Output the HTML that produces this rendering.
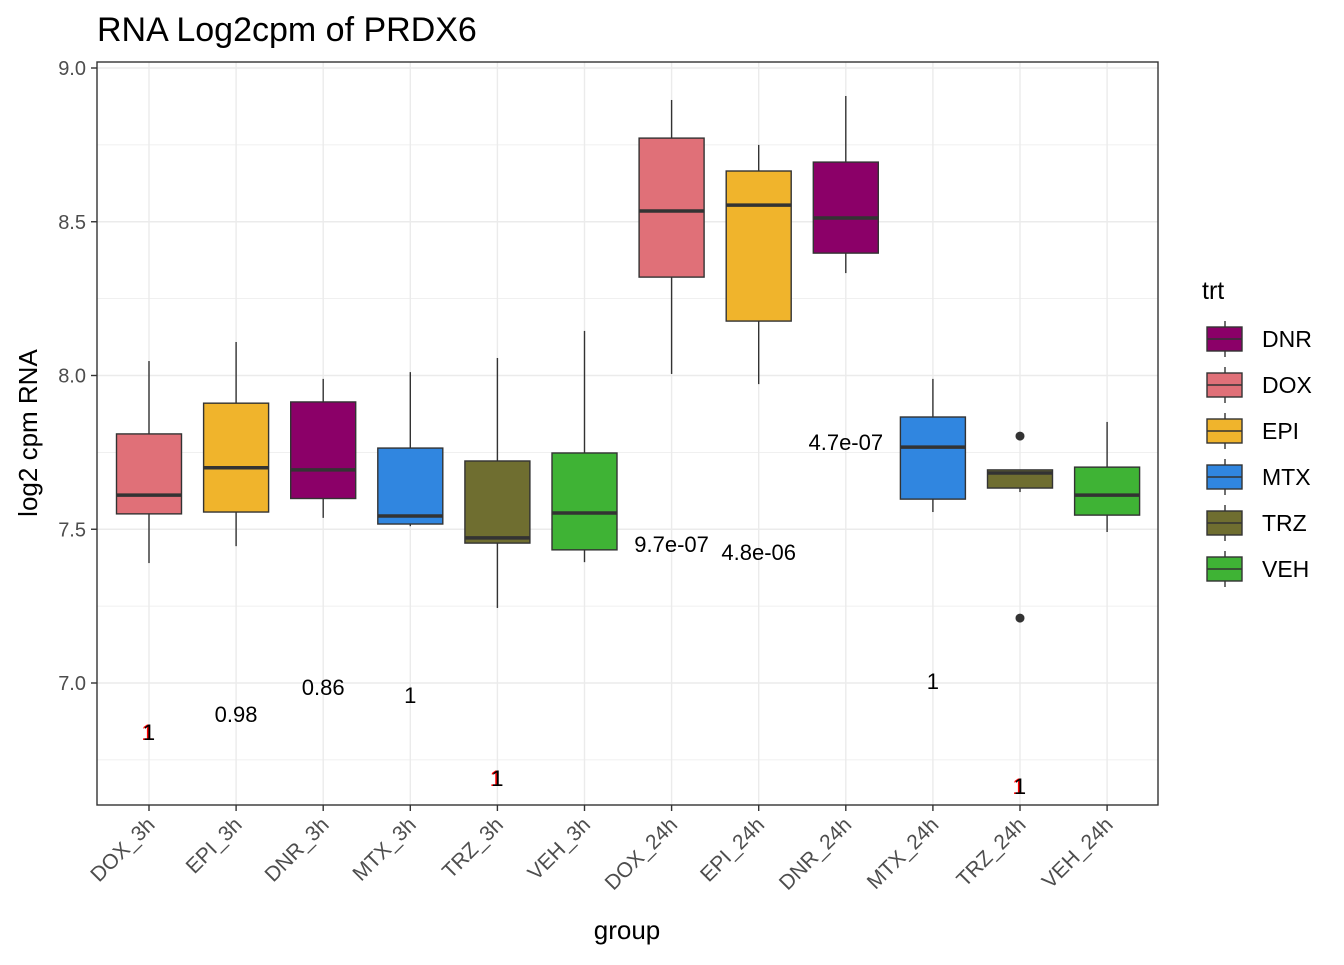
<!DOCTYPE html>
<html><head><meta charset="utf-8"><style>
body{margin:0;background:#fff;font-family:"Liberation Sans",Arial,sans-serif}
</style></head><body>
<svg id="chart" width="1344" height="960" xmlns="http://www.w3.org/2000/svg" font-family="Liberation Sans, Arial, sans-serif">
<text x="97" y="41" font-size="34" fill="#000">RNA Log2cpm of PRDX6</text>
<g id="grid"></g>
<g id="boxes"></g>
<g id="labels"></g>
<rect x="97" y="62" width="1061" height="743" fill="none" stroke="#333" stroke-width="1.4"/>
<g id="axes"></g>
<text x="627" y="939" font-size="26" text-anchor="middle">group</text>
<text transform="translate(37,433) rotate(-90)" font-size="26" text-anchor="middle">log2 cpm RNA</text>
<g id="legend"></g>
</svg>
<script>
const groups=["DOX_3h","EPI_3h","DNR_3h","MTX_3h","TRZ_3h","VEH_3h","DOX_24h","EPI_24h","DNR_24h","MTX_24h","TRZ_24h","VEH_24h"];
const trts=["DOX","EPI","DNR","MTX","TRZ","VEH","DOX","EPI","DNR","MTX","TRZ","VEH"];
const whiskerLow=[7.39,7.445,7.537,7.51,7.244,7.393,8.005,7.972,8.333,7.556,7.621,7.491];
const q1=[7.55,7.556,7.60,7.517,7.455,7.433,8.320,8.177,8.398,7.598,7.634,7.546];
const median=[7.611,7.70,7.693,7.543,7.472,7.553,8.535,8.554,8.512,7.767,7.683,7.611];
const q3=[7.81,7.91,7.914,7.764,7.722,7.748,8.772,8.665,8.694,7.865,7.693,7.702];
const whiskerHigh=[8.047,8.109,7.989,8.011,8.057,8.145,8.896,8.75,8.909,7.989,7.693,7.849];
const outlierGroup=[10,10];
const outlierValue=[7.803,7.211];
const pLabels=["1","0.98","0.86","1","1","","9.7e-07","4.8e-06","4.7e-07","1","1",""];
const pLabelY=[6.841,6.899,6.987,6.961,6.691,null,7.452,7.426,7.784,7.007,6.665,null];
const pRed=[true,false,false,false,true,false,false,false,false,false,true,false];
const yTicks=[7.0,7.5,8.0,8.5,9.0];
const yTickLabels=["7.0","7.5","8.0","8.5","9.0"];
const legendTrts=["DNR","DOX","EPI","MTX","TRZ","VEH"];
const colors={DOX:"#e07078",EPI:"#f0b42c",DNR:"#8b0068",MTX:"#3086e0",TRZ:"#6f6e30",VEH:"#3fb335"};
const NS="http://www.w3.org/2000/svg";
const yS=v=>68+(9-v)*307.5;
const xS=i=>149+i*87.1;
function mk(tag,attrs,parent){const e=document.createElementNS(NS,tag);for(const k in attrs)e.setAttribute(k,attrs[k]);parent.appendChild(e);return e;}
const G=document.getElementById("grid"),B=document.getElementById("boxes"),L=document.getElementById("labels"),A=document.getElementById("axes"),LG=document.getElementById("legend");
for(let v=6.75;v<=9.0;v+=0.25){const y=yS(v);if(y<62||y>805)continue;const major=Math.abs(v*2-Math.round(v*2))<1e-6;
 const l=mk("line",{x1:97,x2:1158,y1:y,y2:y,stroke:"#ebebeb","stroke-width":major?1.4:0.7},G);
 
 }
groups.forEach((g,i)=>{const l=mk("line",{x1:xS(i),x2:xS(i),y1:62,y2:805,stroke:"#ebebeb","stroke-width":1.4},G);
 
 });
const hw=32.5;
groups.forEach((g,i)=>{const x=xS(i);const grp=mk("g",{},B);
 
 
 mk("line",{x1:x,x2:x,y1:yS(whiskerHigh[i]),y2:yS(q3[i]),stroke:"#333","stroke-width":1.4},grp);
 mk("line",{x1:x,x2:x,y1:yS(q1[i]),y2:yS(whiskerLow[i]),stroke:"#333","stroke-width":1.4},grp);
 mk("rect",{x:x-hw,y:yS(q3[i]),width:hw*2,height:Math.max(yS(q1[i])-yS(q3[i]),0.5),fill:colors[trts[i]],stroke:"#333","stroke-width":1.4},grp);
 mk("line",{x1:x-hw,x2:x+hw,y1:yS(median[i]),y2:yS(median[i]),stroke:"#333","stroke-width":3.5},grp);
});
outlierGroup.forEach((gi,k)=>{const c=mk("circle",{cx:xS(gi),cy:yS(outlierValue[k]),r:4.5,fill:"#333"},B);
 
 });
pLabels.forEach((t,i)=>{if(!t)return;const x=xS(i),y=yS(pLabelY[i])+8;
 if(pRed[i]){const r=mk("text",{x:x-1.5,y:y,"font-size":22,"text-anchor":"middle",fill:"#ff0000"},L);r.textContent=t;
  
  }
 const e=mk("text",{x:x,y:y,"font-size":22,"text-anchor":"middle",fill:"#000"},L);e.textContent=t;
 
 });
yTicks.forEach((v,k)=>{const y=yS(v);mk("line",{x1:91,x2:97,y1:y,y2:y,stroke:"#333","stroke-width":1.4},A);
 const t=mk("text",{x:86,y:y+7,"font-size":20,"text-anchor":"end",fill:"#4d4d4d"},A);t.textContent=yTickLabels[k];
 
 });
groups.forEach((g,i)=>{const x=xS(i);mk("line",{x1:x,x2:x,y1:805,y2:811,stroke:"#333","stroke-width":1.4},A);
 const t=mk("text",{x:x+7,y:826,"font-size":21,"text-anchor":"end",fill:"#4d4d4d",transform:`rotate(-45 ${x+7} 826)`},A);t.textContent=g;
 
 });
const lt=mk("text",{x:1202,y:299,"font-size":25},LG);lt.textContent="trt";


legendTrts.forEach((t,k)=>{const cy=339+k*46;const g=mk("g",{},LG);
 
 
 mk("line",{x1:1225,x2:1225,y1:cy-18,y2:cy+18,stroke:"#333","stroke-width":1.4},g);
 mk("rect",{x:1207,y:cy-12,width:35,height:24,fill:colors[t],stroke:"#333","stroke-width":1.4},g);
 mk("line",{x1:1207,x2:1242,y1:cy,y2:cy,stroke:"#333","stroke-width":1.4},g);
 const tx=mk("text",{x:1262,y:cy+8,"font-size":23},g);tx.textContent=t;});
</script>
</body></html>
